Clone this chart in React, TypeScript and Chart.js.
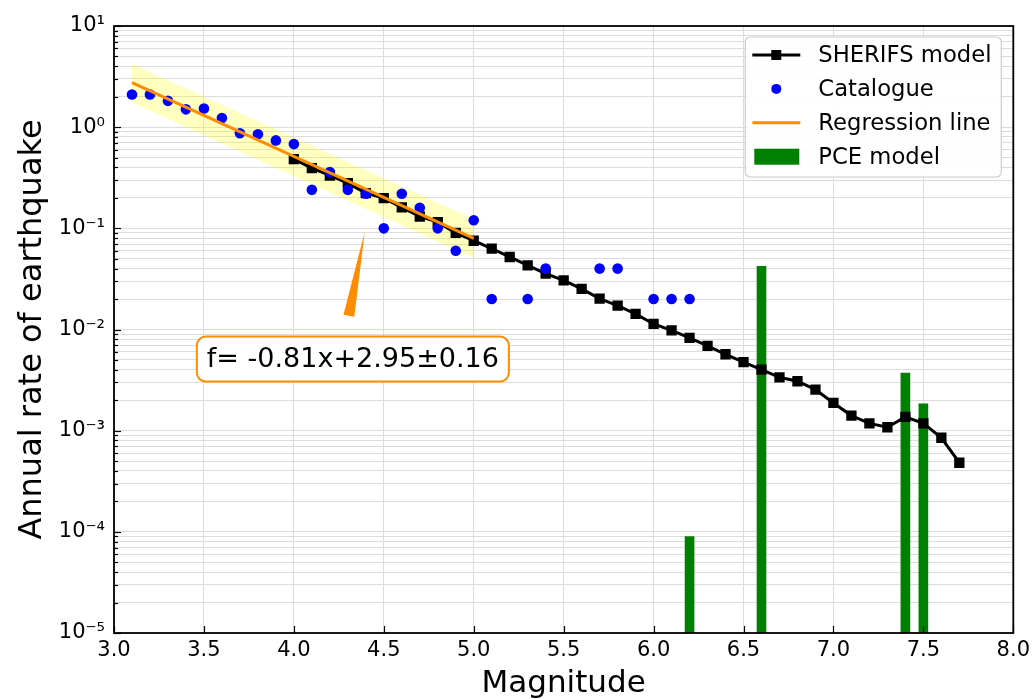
import React, { useEffect, useRef } from 'react';
import { Chart, registerables } from 'chart.js';

Chart.register(...registerables);

const FONT = "'DejaVu Sans', 'Liberation Sans', sans-serif";

// ---- data ----
const sherifsMag = [
  4.0, 4.1, 4.2, 4.3, 4.4, 4.5, 4.6, 4.7, 4.8, 4.9,
  5.0, 5.1, 5.2, 5.3, 5.4, 5.5, 5.6, 5.7, 5.8, 5.9,
  6.0, 6.1, 6.2, 6.3, 6.4, 6.5, 6.6, 6.7, 6.8, 6.9,
  7.0, 7.1, 7.2, 7.3, 7.4, 7.5, 7.6, 7.7,
];
const sherifsRate = [
  0.483, 0.393, 0.333, 0.28, 0.223, 0.199, 0.161, 0.131, 0.115, 0.09,
  0.0754, 0.0629, 0.0521, 0.0431, 0.0356, 0.0306, 0.0252, 0.0202, 0.0172, 0.01426,
  0.01135, 0.00982, 0.00826, 0.00689, 0.00569, 0.00476, 0.00402, 0.00337, 0.00308, 0.00255,
  0.00188, 0.00141, 0.00118, 0.00108, 0.00137, 0.00118, 0.000851, 0.000482,
];
const catalogueMag = [
  3.1, 3.2, 3.3, 3.4, 3.5, 3.6, 3.7, 3.8, 3.9, 4.0,
  4.1, 4.2, 4.3, 4.4, 4.5, 4.6, 4.7, 4.8, 4.9, 5.0,
  5.1, 5.3, 5.4, 5.7, 5.8, 6.0, 6.1, 6.2,
];
const catalogueRate = [
  2.1, 2.1, 1.82, 1.5, 1.53, 1.23, 0.87, 0.85, 0.74, 0.68,
  0.24, 0.36, 0.24, 0.22, 0.1, 0.22, 0.16, 0.1, 0.06, 0.12,
  0.02, 0.02, 0.04, 0.04, 0.04, 0.02, 0.02, 0.02,
];
const regressionMag = [3.1, 5.0];
const regressionRate = [2.75, 0.0794];
const bandUpperRate = [4.2, 0.123];
const bandLowerRate = [1.75, 0.0513];
const pceMag = [6.2, 6.6, 7.4, 7.5];
const pceRate = [9.0e-5, 0.042, 0.0037, 0.00184];

const xTickValues = [3.0, 3.5, 4.0, 4.5, 5.0, 5.5, 6.0, 6.5, 7.0, 7.5, 8.0];
const yDecades = [-5, -4, -3, -2, -1, 0, 1];
const yMinorSteps = [2, 3, 4, 5, 6, 7, 8, 9];
const X_MIN = 3;
const X_MAX = 8;
const Y_MIN = 1e-5;
const Y_MAX = 10;

const annotationText = 'f= -0.81x+2.95\u00b10.16';
const arrowTip = { x: 4.394, y: 0.0919 };
const arrowBase = { x: 4.306, y: 0.0137 };
const textAnchor = { x: 4.328, y: 0.0051 };

const COLORS = {
  sherifs: '#000000',
  catalogue: '#0000ff',
  regression: '#ff8c00',
  band: 'rgba(255, 255, 0, 0.25)',
  pce: '#008000',
  grid: '#dcdcdc',
};

const SUP: Record<string, string> = {
  '-': '\u207b', '0': '\u2070', '1': '\u00b9', '2': '\u00b2', '3': '\u00b3',
  '4': '\u2074', '5': '\u2075', '6': '\u2076', '7': '\u2077', '8': '\u2078', '9': '\u2079',
};
const sup = (s: string) => s.split('').map((c) => SUP[c] || c).join('');

const buildYTicks = () => {
  const ticks: { value: number; major: boolean }[] = [];
  yDecades.forEach((e) => {
    const base = Math.pow(10, e);
    ticks.push({ value: base, major: true });
    if (e < yDecades[yDecades.length - 1]) {
      yMinorSteps.forEach((s) => ticks.push({ value: s * base, major: false }));
    }
  });
  return ticks;
};

const legendItems = [
  { label: 'SHERIFS model', kind: 'lineMarker', color: COLORS.sherifs },
  { label: 'Catalogue', kind: 'dot', color: COLORS.catalogue },
  { label: 'Regression line', kind: 'line', color: COLORS.regression },
  { label: 'PCE model', kind: 'patch', color: COLORS.pce },
];

const decorPlugin = {
  id: 'mplDecor',
  afterDraw(chart: any) {
    const ctx: CanvasRenderingContext2D = chart.ctx;
    const { left, right, top, bottom } = chart.chartArea;
    const xs = chart.scales.x;
    const ys = chart.scales.y;
    ctx.save();

    // inward ticks
    ctx.strokeStyle = '#000';
    ctx.lineWidth = 1.2;
    ys.ticks.forEach((t: any) => {
      const y = Math.round(ys.getPixelForValue(t.value)) + 0.5;
      const len = t.major ? 7 : 4;
      ctx.beginPath();
      ctx.moveTo(left, y);
      ctx.lineTo(left + len, y);
      ctx.stroke();
    });
    xs.ticks.forEach((t: any) => {
      const x = Math.round(xs.getPixelForValue(t.value)) + 0.5;
      ctx.beginPath();
      ctx.moveTo(x, bottom);
      ctx.lineTo(x, bottom - 7);
      ctx.stroke();
    });

    // frame
    ctx.lineWidth = 1.8;
    ctx.strokeStyle = '#000';
    ctx.strokeRect(left, top, right - left, bottom - top);

    // annotation wedge
    const tx = xs.getPixelForValue(arrowTip.x);
    const ty = ys.getPixelForValue(arrowTip.y);
    const bx = xs.getPixelForValue(arrowBase.x);
    const by = ys.getPixelForValue(arrowBase.y);
    const dx = tx - bx;
    const dy = ty - by;
    const len = Math.hypot(dx, dy);
    const px = -dy / len;
    const py = dx / len;
    const hw = 5.5;
    ctx.fillStyle = COLORS.regression;
    ctx.beginPath();
    ctx.moveTo(tx, ty);
    ctx.lineTo(bx + px * hw, by + py * hw);
    ctx.lineTo(bx - px * hw, by - py * hw);
    ctx.closePath();
    ctx.fill();

    // annotation text box
    ctx.font = `27px ${FONT}`;
    const cx = xs.getPixelForValue(textAnchor.x);
    const cy = ys.getPixelForValue(textAnchor.y);
    const tw = ctx.measureText(annotationText).width;
    const bw = tw + 20;
    const bh = 45;
    const bxl = cx - bw / 2;
    const byt = cy - bh / 2;
    ctx.beginPath();
    (ctx as any).roundRect(bxl, byt, bw, bh, 9);
    ctx.fillStyle = '#ffffff';
    ctx.fill();
    ctx.lineWidth = 2;
    ctx.strokeStyle = COLORS.regression;
    ctx.stroke();
    ctx.fillStyle = '#000';
    ctx.textAlign = 'center';
    ctx.textBaseline = 'middle';
    ctx.fillText(annotationText, cx, cy + 1);

    // legend
    const lw = 256;
    const lh = 140;
    const lx = right - 12 - lw;
    const ly = top + 11;
    ctx.beginPath();
    (ctx as any).roundRect(lx, ly, lw, lh, 5);
    ctx.fillStyle = 'rgba(255,255,255,0.9)';
    ctx.fill();
    ctx.lineWidth = 1.2;
    ctx.strokeStyle = '#cccccc';
    ctx.stroke();
    ctx.font = `22.7px ${FONT}`;
    ctx.textAlign = 'left';
    ctx.textBaseline = 'middle';
    legendItems.forEach((item, i) => {
      const ry = ly + 18 + i * 33.9;
      const hx0 = lx + 7;
      const hx1 = lx + 55;
      const hc = (hx0 + hx1) / 2;
      if (item.kind === 'lineMarker' || item.kind === 'line') {
        ctx.strokeStyle = item.color;
        ctx.lineWidth = 3;
        ctx.beginPath();
        ctx.moveTo(hx0, ry);
        ctx.lineTo(hx1, ry);
        ctx.stroke();
        if (item.kind === 'lineMarker') {
          ctx.fillStyle = item.color;
          ctx.fillRect(hc - 5, ry - 5, 10, 10);
        }
      } else if (item.kind === 'dot') {
        ctx.fillStyle = item.color;
        ctx.beginPath();
        ctx.arc(hc, ry, 5, 0, Math.PI * 2);
        ctx.fill();
      } else {
        ctx.fillStyle = item.color;
        ctx.fillRect(hx0 + 2, ry - 8, 45, 16);
      }
      ctx.fillStyle = '#000';
      ctx.fillText(item.label, lx + 73, ry + 1);
    });

    ctx.restore();
  },
};

export default function App() {
  const canvasRef = useRef<HTMLCanvasElement | null>(null);

  useEffect(() => {
    if (!canvasRef.current) return;
    const yTicks = buildYTicks();
    const chart = new Chart(canvasRef.current, {
      type: 'line',
      data: {
        datasets: [
          {
            type: 'line',
            label: 'Regression line',
            data: regressionMag.map((x, i) => ({ x, y: regressionRate[i] })),
            borderColor: COLORS.regression,
            borderWidth: 3,
            pointRadius: 0,
            fill: false,
            order: 0,
          },
          {
            type: 'line',
            label: 'band upper',
            data: regressionMag.map((x, i) => ({ x, y: bandUpperRate[i] })),
            borderWidth: 0,
            borderColor: 'rgba(0,0,0,0)',
            pointRadius: 0,
            fill: '+1',
            backgroundColor: COLORS.band,
            order: 5,
          },
          {
            type: 'line',
            label: 'band lower',
            data: regressionMag.map((x, i) => ({ x, y: bandLowerRate[i] })),
            borderWidth: 0,
            borderColor: 'rgba(0,0,0,0)',
            pointRadius: 0,
            fill: false,
            order: 6,
          },
          {
            type: 'line',
            label: 'Catalogue',
            data: catalogueMag.map((x, i) => ({ x, y: catalogueRate[i] })),
            showLine: false,
            pointRadius: 5.3,
            pointStyle: 'circle',
            pointBackgroundColor: COLORS.catalogue,
            pointBorderWidth: 0,
            borderColor: COLORS.catalogue,
            order: 1,
          },
          {
            type: 'line',
            label: 'SHERIFS model',
            data: sherifsMag.map((x, i) => ({ x, y: sherifsRate[i] })),
            borderColor: COLORS.sherifs,
            borderWidth: 3,
            pointStyle: 'rect',
            pointRadius: 7.3,
            pointBackgroundColor: COLORS.sherifs,
            pointBorderWidth: 0,
            fill: false,
            order: 2,
          },
          {
            type: 'bar',
            label: 'PCE model',
            data: pceMag.map((x, i) => ({ x, y: [Y_MIN, pceRate[i]] })) as any,
            backgroundColor: COLORS.pce,
            borderWidth: 0,
            barThickness: 9,
            order: 4,
          },
        ],
      },
      options: {
        animation: false,
        responsive: false,
        events: [],
        layout: { padding: { left: 0, right: 21, top: 26, bottom: 0 } },
        plugins: {
          legend: { display: false },
          tooltip: { enabled: false },
        },
        scales: {
          x: {
            type: 'linear',
            min: X_MIN,
            max: X_MAX,
            offset: false,
            afterBuildTicks: (s: any) => {
              s.ticks = xTickValues.map((v) => ({ value: v }));
            },
            afterFit: (s: any) => {
              s.height = 66;
            },
            ticks: {
              callback: (v: any) => Number(v).toFixed(1),
              font: { family: FONT, size: 21 },
              color: '#000',
              padding: 5,
              maxRotation: 0,
              autoSkip: false,
            },
            grid: { color: COLORS.grid, lineWidth: 1, drawTicks: false, offset: false },
            border: { display: false },
            title: {
              display: true,
              text: 'Magnitude',
              color: '#000',
              font: { family: FONT, size: 31, lineHeight: 1 },
              padding: 0,
            },
          },
          y: {
            type: 'logarithmic',
            min: Y_MIN,
            max: Y_MAX,
            afterBuildTicks: (s: any) => {
              s.ticks = yTicks.map((t) => ({ value: t.value, major: t.major }));
            },
            afterFit: (s: any) => {
              s.width = 114;
            },
            ticks: {
              callback: (v: any) => {
                const e = Math.log10(Number(v));
                if (Math.abs(e - Math.round(e)) < 1e-9) {
                  return '10' + sup(String(Math.round(e)));
                }
                return '';
              },
              font: { family: FONT, size: 21 },
              color: '#000',
              padding: 9,
              autoSkip: false,
            },
            grid: { color: COLORS.grid, lineWidth: 1, drawTicks: false },
            border: { display: false },
            title: {
              display: true,
              text: 'Annual rate of earthquake',
              color: '#000',
              font: { family: FONT, size: 32, lineHeight: 1 },
              padding: { top: 17, bottom: 0 },
            },
          },
        },
      } as any,
      plugins: [decorPlugin],
    });
    return () => chart.destroy();
  }, []);

  return (
    <div style={{ position: 'absolute', left: 0, top: 0, width: 1035, height: 699, background: '#fff' }}>
      <canvas ref={canvasRef} width={1035} height={699} style={{ display: 'block' }} />
    </div>
  );
}
